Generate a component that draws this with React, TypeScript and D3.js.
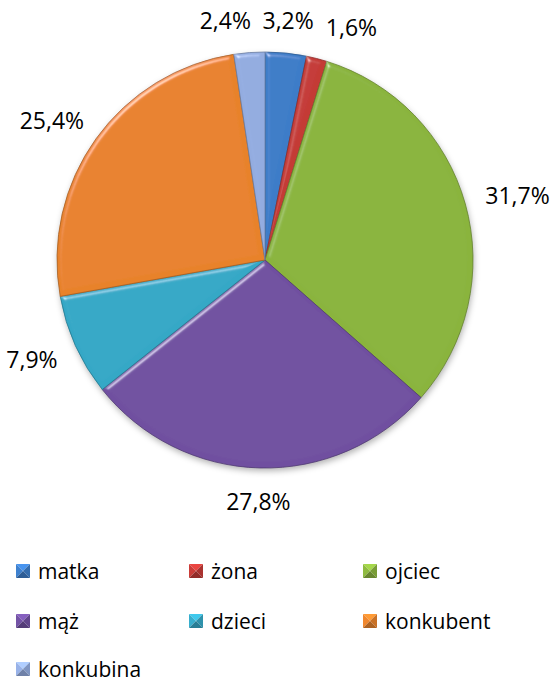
import React, { useEffect, useRef } from 'react';
import * as d3 from 'd3';

const categories = ['matka', 'żona', 'ojciec', 'mąż', 'dzieci', 'konkubent', 'konkubina'];
const shares = [3.2, 1.6, 31.7, 27.8, 7.9, 25.4, 2.4];
const sliceColors = ['#3C7CC8', '#C43A36', '#8AB43E', '#7050A0', '#35A8C6', '#E8822C', '#93ACE0'];

const WIDTH = 554;
const HEIGHT = 684;
const FONT = "'Open Sans', 'Noto Sans', sans-serif";

const App: React.FC = () => {
  const svgRef = useRef<SVGSVGElement>(null);

  useEffect(() => {
    if (!svgRef.current) return;
    const svg = d3.select(svgRef.current);
    svg.selectAll('*').remove();

    const cx = 265;
    const cy = 260;
    const radius = 208;

    // bevel-ish look for the slices: highlight only on edges facing the light
    const defs = svg.append('defs');
    const bevel = defs.append('filter').attr('id', 'bevel')
      .attr('x', '-10%').attr('y', '-10%').attr('width', '120%').attr('height', '120%');
    bevel.append('feGaussianBlur').attr('in', 'SourceAlpha').attr('stdDeviation', 2.5).attr('result', 'blur');
    const spec = bevel.append('feSpecularLighting')
      .attr('in', 'blur').attr('surfaceScale', 4).attr('specularConstant', 0.7)
      .attr('specularExponent', 30).attr('lighting-color', '#ffffff').attr('result', 'spec');
    spec.append('feDistantLight').attr('azimuth', 235).attr('elevation', 28);
    bevel.append('feComposite').attr('in', 'spec').attr('in2', 'SourceAlpha').attr('operator', 'in').attr('result', 'specIn');
    bevel.append('feComposite').attr('in', 'SourceGraphic').attr('in2', 'specIn')
      .attr('operator', 'arithmetic').attr('k1', 0).attr('k2', 1).attr('k3', 0.6).attr('k4', 0);

    const shadow = defs.append('filter').attr('id', 'shadow')
      .attr('x', '-10%').attr('y', '-10%').attr('width', '120%').attr('height', '120%');
    shadow.append('feGaussianBlur').attr('stdDeviation', 3);

    const g = svg.append('g').attr('transform', `translate(${cx},${cy})`);

    g.append('circle')
      .attr('cx', 1).attr('cy', 3).attr('r', radius)
      .attr('fill', 'rgba(0,0,0,0.3)')
      .attr('filter', 'url(#shadow)');

    const pie = d3.pie<number>().sort(null).value(d => d);
    const arcs = pie(shares);
    const arc = d3.arc<d3.PieArcDatum<number>>().innerRadius(0).outerRadius(radius);

    g.selectAll('path.slice')
      .data(arcs)
      .join('path')
      .attr('class', 'slice')
      .attr('d', arc)
      .attr('fill', (_, i) => sliceColors[i])
      .attr('stroke', (_, i) => d3.color(sliceColors[i])!.darker(0.9).formatHex())
      .attr('stroke-width', 0.8)
      .attr('filter', 'url(#bevel)');

    // data labels outside the pie
    const pad = 22;
    const labels = arcs.map((a, i) => {
      const mid = (a.startAngle + a.endAngle) / 2;
      const text = shares[i].toFixed(1).replace('.', ',') + '%';
      return { mid, text, x: 0, y: 0, w: 0, h: 22 };
    });

    const labelSel = svg.append('g').selectAll('text')
      .data(labels)
      .join('text')
      .attr('font-family', FONT)
      .attr('font-size', 23)
      .attr('fill', '#000')
      .attr('text-anchor', 'middle')
      .attr('dominant-baseline', 'central')
      .text(d => d.text);

    labelSel.each(function (d) {
      d.w = (this as SVGTextElement).getComputedTextLength();
      const s = Math.sin(d.mid);
      const c = -Math.cos(d.mid);
      d.x = cx + s * (radius + pad) + s * d.w / 2;
      d.y = cy + c * (radius + pad) + c * d.h / 2;
    });

    // push overlapping labels apart horizontally (all pairs)
    const gap = 12;
    for (let iter = 0; iter < 100; iter++) {
      let moved = false;
      for (let a = 0; a < labels.length; a++) {
        for (let b = a + 1; b < labels.length; b++) {
          const p = labels[a].x <= labels[b].x ? labels[a] : labels[b];
          const q = p === labels[a] ? labels[b] : labels[a];
          if (Math.abs(p.y - q.y) > (p.h + q.h) / 2) continue;
          const need = (p.w + q.w) / 2 + gap - (q.x - p.x);
          if (need > 0.5) {
            p.x -= need / 2;
            q.x += need / 2;
            moved = true;
          }
        }
      }
      if (!moved) break;
    }

    labelSel.attr('x', d => d.x).attr('y', d => d.y);

    // legend
    const colX = [16, 189, 363];
    const rowY = [571, 621, 669];
    const box = 14;
    const legend = svg.append('g');
    categories.forEach((name, i) => {
      const x = colX[i % 3];
      const y = rowY[Math.floor(i / 3)];
      const base = d3.color(sliceColors[i])!;
      const x0 = x, y0 = y - box / 2, x1 = x + box, y1 = y + box / 2;
      const mx = x + box / 2, my = y;
      const item = legend.append('g');
      const tri = (pts: number[][], fill: string) =>
        item.append('path').attr('d', 'M' + pts.map(p => p.join(',')).join('L') + 'Z').attr('fill', fill);
      tri([[x0, y0], [x1, y0], [mx, my]], base.brighter(0.5).formatHex());
      tri([[x0, y0], [x0, y1], [mx, my]], base.brighter(0.1).formatHex());
      tri([[x1, y0], [x1, y1], [mx, my]], base.darker(0.4).formatHex());
      tri([[x0, y1], [x1, y1], [mx, my]], base.darker(0.8).formatHex());
      item.append('text')
        .attr('x', x + 22)
        .attr('y', y)
        .attr('dominant-baseline', 'central')
        .attr('font-family', FONT)
        .attr('font-size', 21)
        .attr('fill', '#000')
        .text(name);
    });
  }, []);

  return (
    <svg
      ref={svgRef}
      width={WIDTH}
      height={HEIGHT}
      style={{ position: 'absolute', left: 0, top: 0, background: '#fff' }}
    />
  );
};

export default App;
